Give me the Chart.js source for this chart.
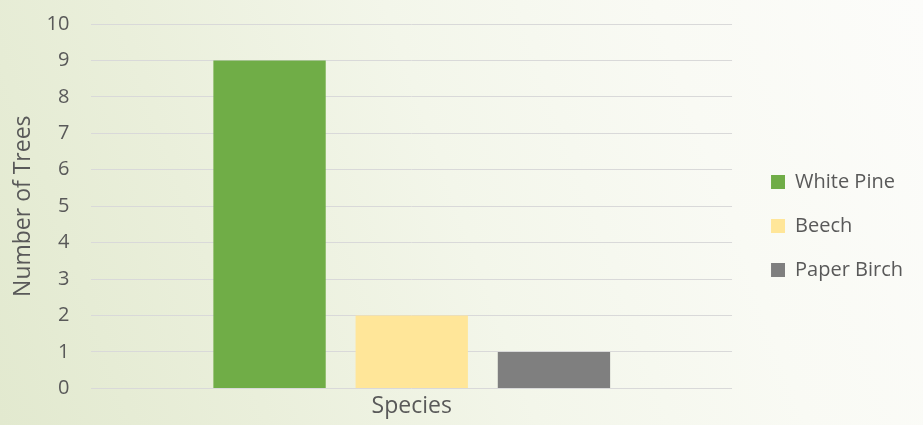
<!DOCTYPE html>
<html lang="en">
<head>
    <meta charset="UTF-8">
    <title>Tree Species Count</title>
    <script src="https://cdn.jsdelivr.net/npm/chart.js"></script>
    <style>
        html, body {
            margin: 0;
            padding: 0;
        }

        body {
            width: 923px;
            height: 425px;
            background: linear-gradient(70deg, #e2e9cf 0%, #eaefdb 25%, #f3f6ea 50%, #f9faf4 75%, #fcfcfa 100%);
            overflow: hidden;
        }

        canvas {
            display: block;
        }
    </style>
</head>
<body>

    <canvas id="treeChart" width="923" height="425"></canvas>

    <script>
        const categories = ['Species'];
        const speciesNames = ['White Pine', 'Beech', 'Paper Birch'];
        const treeCounts = [9, 2, 1];
        const yTicks = [0, 1, 2, 3, 4, 5, 6, 7, 8, 9, 10];

        const barColors = ['#70ad47', '#ffe699', '#7f7f7f'];
        const labelColor = '#595959';
        const fontFamily = '"Open Sans", sans-serif';

        // move the legend a bit right of the plot and down beside the bars
        const legendOffset = {
            id: 'legendOffset',
            afterLayout(chart) {
                const lg = chart.legend;
                lg.left += 15;
                lg.right += 15;
                lg.top += 2;
                lg.bottom += 2;
            }
        };

        document.addEventListener('DOMContentLoaded', () => {
            const ctx = document.getElementById('treeChart').getContext('2d');

            new Chart(ctx, {
                type: 'bar',
                data: {
                    labels: categories,
                    datasets: speciesNames.map((name, i) => ({
                        label: name,
                        data: [treeCounts[i]],
                        backgroundColor: barColors[i],
                        borderWidth: 0
                    }))
                },
                options: {
                    responsive: false,
                    animation: false,
                    categoryPercentage: 0.666,
                    barPercentage: 0.79,
                    layout: {
                        padding: { top: 24, left: 10, right: 25, bottom: 1 }
                    },
                    plugins: {
                        legend: {
                            position: 'right',
                            labels: {
                                boxWidth: 14,
                                boxHeight: 14,
                                padding: 24,
                                color: labelColor,
                                font: { family: fontFamily, size: 20 }
                            }
                        },
                        tooltip: { enabled: false }
                    },
                    scales: {
                        x: {
                            grid: { display: false, drawTicks: false },
                            border: { display: false },
                            ticks: {
                                color: labelColor,
                                font: { family: fontFamily, size: 23 },
                                padding: 4
                            }
                        },
                        y: {
                            min: 0,
                            max: 10,
                            afterBuildTicks: axis => {
                                axis.ticks = yTicks.map(v => ({ value: v }));
                            },
                            // invisible tick marks keep the labels clear of the plot
                            grid: {
                                color: '#d9d9d9',
                                lineWidth: 1,
                                drawTicks: true,
                                tickLength: 22,
                                tickColor: 'rgba(0,0,0,0)'
                            },
                            border: { display: false },
                            ticks: {
                                color: labelColor,
                                font: { family: fontFamily, size: 20 },
                                padding: 0
                            },
                            title: {
                                display: true,
                                text: 'Number of Trees',
                                color: labelColor,
                                font: { family: fontFamily, size: 23 },
                                padding: { top: 0, bottom: 9 }
                            }
                        }
                    }
                },
                plugins: [legendOffset]
            });
        });
    </script>

</body>
</html>
